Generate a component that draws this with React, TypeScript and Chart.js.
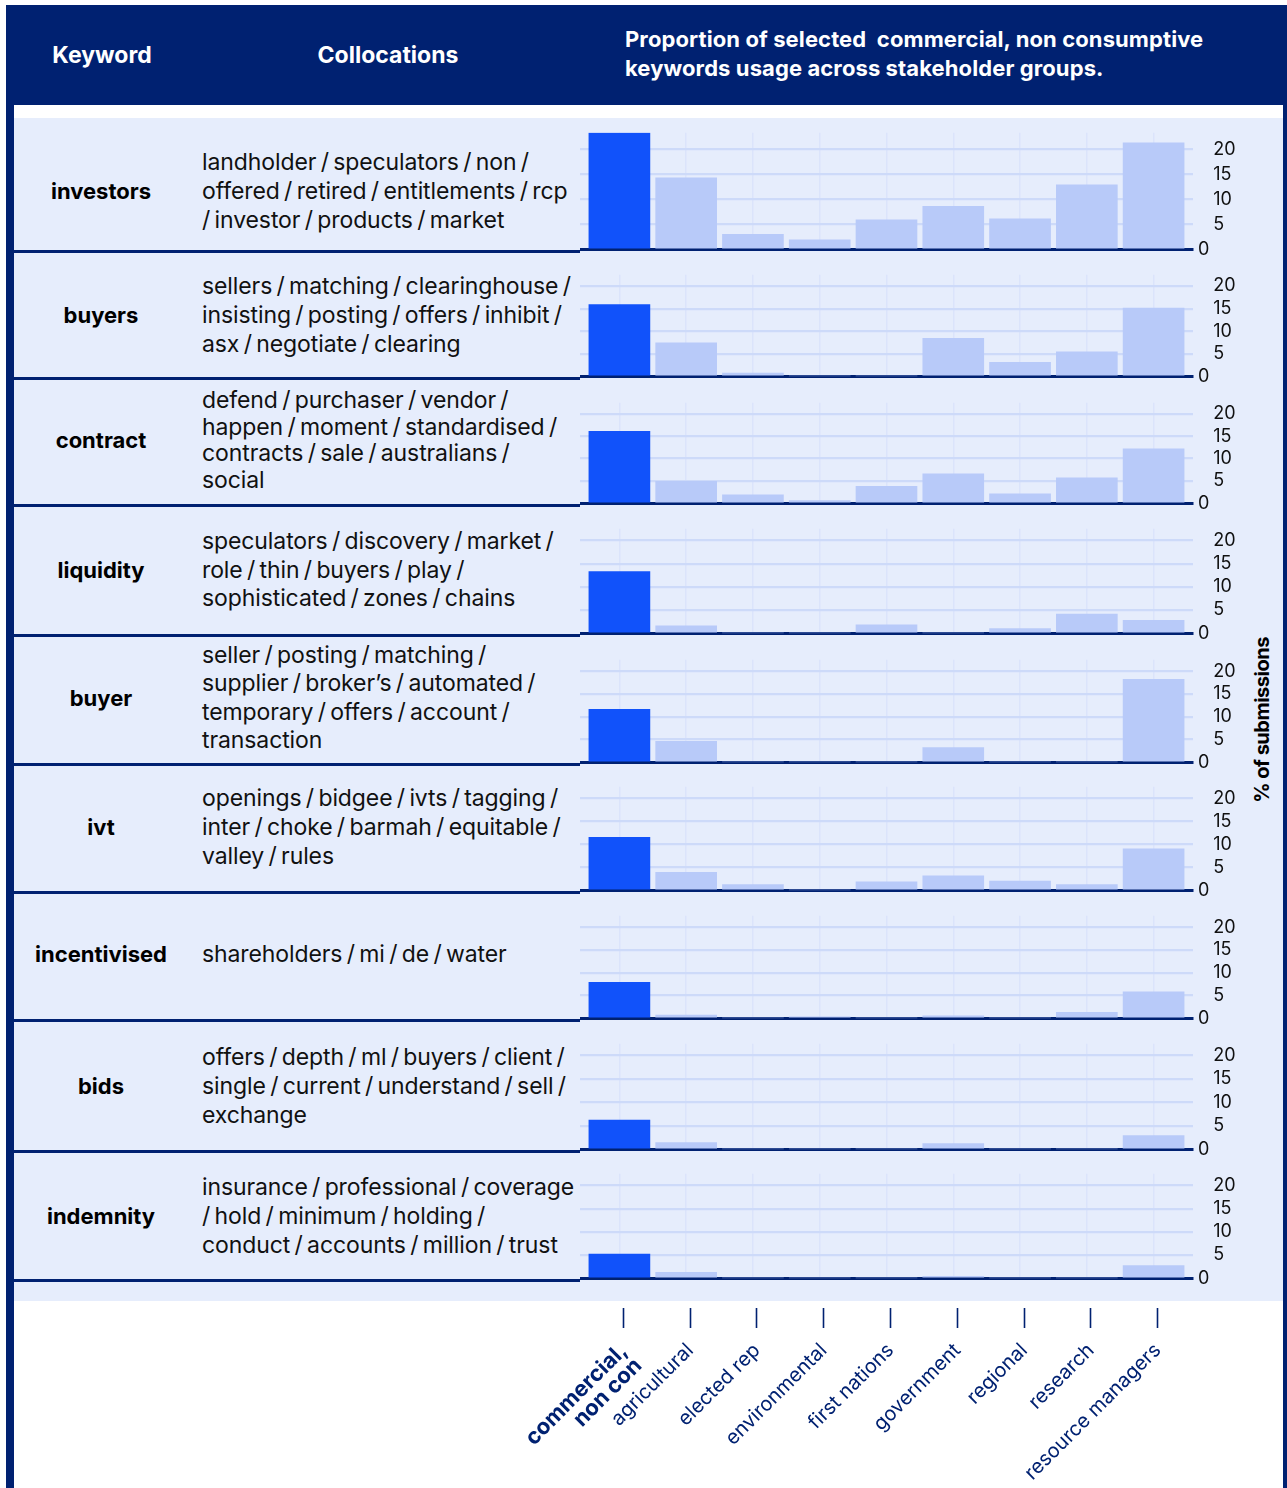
import React, { useEffect, useRef } from "react";
import { Chart, registerables } from "chart.js";

Chart.register(...registerables);
Chart.defaults.font.family = "Inter, sans-serif";

// Stakeholder groups along the shared x axis (first label split over two lines)
const GROUP_LABELS: (string | string[])[] = [
  ["commercial,", "non con"],
  "agricultural",
  "elected rep",
  "environmental",
  "first nations",
  "government",
  "regional",
  "research",
  "resource managers",
];

const KEYWORDS = ["investors", "buyers", "contract", "liquidity", "buyer", "ivt", "incentivised", "bids", "indemnity"];

const COLLOCATIONS: string[][] = [
  ["landholder / speculators / non /", "offered / retired / entitlements / rcp", "/ investor / products / market"],
  ["sellers / matching / clearinghouse /", "insisting / posting / offers / inhibit /", "asx / negotiate / clearing"],
  ["defend / purchaser / vendor /", "happen / moment / standardised /", "contracts / sale / australians /", "social"],
  ["speculators / discovery / market /", "role / thin / buyers / play /", "sophisticated / zones / chains"],
  ["seller / posting / matching /", "supplier / broker\u2019s / automated /", "temporary / offers / account /", "transaction"],
  ["openings / bidgee / ivts / tagging /", "inter / choke / barmah / equitable /", "valley / rules"],
  ["shareholders / mi / de / water"],
  ["offers / depth / ml / buyers / client /", "single / current / understand / sell /", "exchange"],
  ["insurance / professional / coverage", "/ hold / minimum / holding /", "conduct / accounts / million / trust"],
];

// % of submissions per stakeholder group, one array per keyword
const INVESTORS = [23.3, 14.3, 3.0, 1.9, 5.9, 8.6, 6.1, 12.9, 21.3];
const BUYERS = [15.9, 7.4, 0.7, 0, 0, 8.4, 3.1, 5.4, 15.1];
const CONTRACT = [16.1, 4.9, 1.9, 0.6, 3.8, 6.6, 2.1, 5.7, 12.2];
const LIQUIDITY = [13.3, 1.6, 0, 0, 1.8, 0, 1.0, 4.1, 2.8];
const BUYER = [11.6, 4.6, 0, 0, 0, 3.2, 0, 0, 18.2];
const IVT = [11.5, 3.9, 1.2, 0, 1.8, 3.1, 2.0, 1.2, 9.0];
const INCENTIVISED = [7.9, 0.7, 0, 0.3, 0, 0.5, 0, 1.3, 5.8];
const BIDS = [6.2, 1.4, 0, 0, 0, 1.2, 0, 0, 2.9];
const INDEMNITY = [5.2, 1.25, 0, 0, 0, 0.4, 0, 0, 2.7];

const SERIES = [INVESTORS, BUYERS, CONTRACT, LIQUIDITY, BUYER, IVT, INCENTIVISED, BIDS, INDEMNITY];

// y axis: labelled ticks and the finer grid steps
const Y_TICK_LABELS = [0, 5, 10, 15, 20];
const GRID_STEPS = [0, 2.5, 5, 7.5, 10, 12.5, 15, 17.5, 20, 22.5];
const Y_MAX = [23.3, 22.5, 22.5, 22.5, 22.5, 22.5, 22.5, 22.5, 22.5];

// layout of the rows (page pixels)
const ROW_BASE = [251, 378, 505, 635, 764, 892, 1020, 1151, 1280];
const PLOT_H = [120, 105, 104, 108, 106, 107, 106, 109, 108];
const TEXT_MID = [191, 315, 440, 570, 698, 827, 954, 1086, 1216];
const LINE_H = [29, 29, 26.7, 28.5, 28.3, 29, 29, 29, 29];

const X_MIN = -0.59;
const X_MAX = 8.59;
const PAD = 14;

const NAVY = "#002171";
const BLUE = "#1152FA";
const LIGHT = "#B8CAF9";
const PANEL_BG = "#E6EDFC";

function Panel({ values, yMax, base, plotH }: { values: number[]; yMax: number; base: number; plotH: number }) {
  const ref = useRef<HTMLCanvasElement>(null);
  useEffect(() => {
    const chart = new Chart(ref.current!, {
      type: "bar",
      data: {
        datasets: [
          {
            data: values.map((v, i) => ({ x: i, y: v })),
            backgroundColor: values.map((_, i) => (i === 0 ? BLUE : LIGHT)),
            barThickness: 61,
            borderWidth: 0,
          },
        ],
      },
      options: {
        animation: false,
        responsive: false,
        maintainAspectRatio: false,
        layout: { padding: { top: PAD, bottom: PAD, left: 0, right: 0 } },
        plugins: { legend: { display: false }, tooltip: { enabled: false } },
        scales: {
          x: {
            type: "linear",
            offset: false,
            min: X_MIN,
            max: X_MAX,
            afterBuildTicks: (s: any) => {
              s.ticks = GROUP_LABELS.map((_, i) => ({ value: i }));
            },
            ticks: { display: false },
            grid: { offset: false, color: "#DBE4FB", lineWidth: 1.5, drawTicks: false },
            border: { display: true, color: NAVY, width: 3 },
          },
          y: {
            position: "right",
            min: 0,
            max: yMax,
            afterBuildTicks: (s: any) => {
              s.ticks = GRID_STEPS.map((v) => ({ value: v }));
            },
            afterFit: (s: any) => {
              s.width = 57;
            },
            ticks: {
              padding: 5,
              color: "#111",
              font: { size: 18 },
              callback: (v: any) => {
                const n = Number(v);
                if (!Y_TICK_LABELS.includes(n)) return "";
                return n === 0 ? "0" : "   " + n;
              },
            },
            grid: {
              drawTicks: false,
              color: (ctx: any) =>
                ctx.tick && ctx.tick.value === 0
                  ? "rgba(0,0,0,0)"
                  : ctx.tick && ctx.tick.value % 5 === 0
                  ? "#CDDAF9"
                  : "#DAE3FB",
              lineWidth: (ctx: any) => (ctx.tick && ctx.tick.value % 5 === 0 ? 2.2 : 1.5),
            },
            border: { display: false },
          },
        },
      },
    } as any);
    return () => chart.destroy();
  }, []);
  const h = plotH + 2 * PAD;
  return (
    <canvas
      ref={ref}
      width={670}
      height={h}
      style={{ position: "absolute", left: 580, top: base - plotH - PAD, width: 670, height: h }}
    />
  );
}

function GroupAxis() {
  const ref = useRef<HTMLCanvasElement>(null);
  useEffect(() => {
    const chart = new Chart(ref.current!, {
      type: "bar",
      data: { datasets: [] },
      options: {
        animation: false,
        responsive: false,
        maintainAspectRatio: false,
        layout: { padding: { top: 10, bottom: 0, left: 184, right: 90 } },
        plugins: { legend: { display: false }, tooltip: { enabled: false } },
        scales: {
          x: {
            type: "linear",
            offset: false,
            min: X_MIN,
            max: X_MAX,
            afterBuildTicks: (s: any) => {
              s.ticks = GROUP_LABELS.map((_, i) => ({ value: i }));
            },
            afterFit: (s: any) => {
              s.height = 180;
            },
            grid: {
              offset: false,
              drawOnChartArea: false,
              drawTicks: true,
              tickLength: 20,
              tickColor: NAVY,
              tickWidth: 1.6,
            },
            border: { display: false },
            ticks: {
              autoSkip: false,
              minRotation: 45,
              maxRotation: 45,
              padding: 12,
              color: NAVY,
              font: (ctx: any) =>
                ctx.index === 0
                  ? { size: 22, weight: "bold", lineHeight: 0.95 }
                  : { size: 20, weight: "normal", lineHeight: 1.0 },
              callback: (v: any) => GROUP_LABELS[Math.round(Number(v))] ?? "",
            },
          },
          y: { display: false },
        },
      },
    } as any);
    return () => chart.destroy();
  }, []);
  return (
    <canvas
      ref={ref}
      width={887}
      height={198}
      style={{ position: "absolute", left: 400, top: 1290, width: 887, height: 198 }}
    />
  );
}

export default function App() {
  const font = "Inter, sans-serif";
  return (
    <div
      style={{
        position: "absolute",
        left: 0,
        top: 0,
        width: 1287,
        height: 1488,
        background: "#fff",
        overflow: "hidden",
        fontFamily: font,
      }}
    >
      {/* navy frame and header band */}
      <div style={{ position: "absolute", left: 6, top: 5, width: 1281, height: 1483, background: NAVY }} />
      <div style={{ position: "absolute", left: 14, top: 105, width: 1269, height: 1383, background: "#fff" }} />
      <div style={{ position: "absolute", left: 14, top: 118, width: 1269, height: 1183, background: PANEL_BG }} />

      <div
        style={{
          position: "absolute",
          left: 14,
          width: 176,
          top: 55,
          transform: "translateY(-50%)",
          textAlign: "center",
          color: "#fff",
          fontWeight: 700,
          fontSize: 23,
          lineHeight: "30px",
        }}
      >
        Keyword
      </div>
      <div
        style={{
          position: "absolute",
          left: 288,
          width: 200,
          top: 55,
          transform: "translateY(-50%)",
          textAlign: "center",
          color: "#fff",
          fontWeight: 700,
          fontSize: 23,
          lineHeight: "30px",
        }}
      >
        Collocations
      </div>
      <div
        style={{
          position: "absolute",
          left: 625,
          top: 25,
          color: "#fff",
          fontWeight: 700,
          fontSize: 22,
          letterSpacing: 0.1,
          wordSpacing: 0,
          lineHeight: "28.5px",
          whiteSpace: "pre",
        }}
      >
        {"Proportion of selected  commercial, non consumptive\nkeywords usage across stakeholder groups."}
      </div>

      {KEYWORDS.map((k, r) => (
        <React.Fragment key={k}>
          <div
            style={{
              position: "absolute",
              left: 14,
              width: 174,
              top: TEXT_MID[r],
              transform: "translateY(-50%)",
              textAlign: "center",
              color: "#000",
              fontWeight: 700,
              fontSize: 22,
              lineHeight: "29px",
            }}
          >
            {k}
          </div>
          <div
            style={{
              position: "absolute",
              left: 202,
              top: TEXT_MID[r],
              transform: "translateY(-50%)",
              color: "#111",
              fontSize: 23,
              letterSpacing: -0.1,
              wordSpacing: -2,
              whiteSpace: "nowrap",
            }}
          >
            {COLLOCATIONS[r].map((line, j) => (
              <div key={j} style={{ height: LINE_H[r], lineHeight: LINE_H[r] + "px" }}>
                {line}
              </div>
            ))}
          </div>
          <div
            style={{ position: "absolute", left: 14, top: ROW_BASE[r] - 1, width: 566, height: 3, background: NAVY }}
          />
          <Panel values={SERIES[r]} yMax={Y_MAX[r]} base={ROW_BASE[r]} plotH={PLOT_H[r]} />
        </React.Fragment>
      ))}

      <div
        style={{
          position: "absolute",
          left: 1262,
          top: 720,
          transform: "translate(-50%, -50%) rotate(-90deg)",
          whiteSpace: "nowrap",
          color: "#000",
          fontWeight: 700,
          fontSize: 20,
          letterSpacing: -0.5,
        }}
      >
        % of submissions
      </div>

      <GroupAxis />
    </div>
  );
}
